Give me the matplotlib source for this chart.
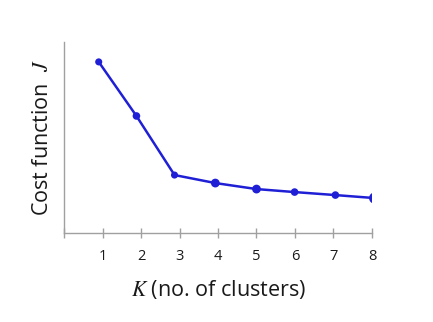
import matplotlib.pyplot as plt

plt.rcParams['font.family'] = ['Open Sans', 'DejaVu Sans']
plt.rcParams['mathtext.fontset'] = 'stix'

# Data (hand-drawn elbow curve, positions)
k_pos = [0.9, 1.88, 2.87, 3.93, 5.0, 5.99, 7.05, 8.07]
cost = [171, 117, 58, 50, 44, 41, 38, 35]
tick_pos = [0, 1, 2, 3, 4, 5, 6, 7, 8]
tick_labels = ['', '1', '2', '3', '4', '5', '6', '7', '8']

blue = '#1f1fd6'
grey = '#a0a0a0'

fig = plt.figure(figsize=(4.33, 3.22), dpi=100)
ax = fig.add_axes([0.148, 0.276, 0.711, 0.594])

ax.plot(k_pos, cost, color=blue, lw=1.8, solid_capstyle='round')
sizes = [26, 30, 26, 40, 40, 30, 30, 65]
ax.scatter(k_pos, cost, s=sizes, color=blue, zorder=3, linewidths=0)

ax.set_xlim(0, 8)
ax.set_ylim(0, 191)

for s in ['top', 'right']:
    ax.spines[s].set_visible(False)
for s in ['left', 'bottom']:
    ax.spines[s].set_color(grey)
    ax.spines[s].set_linewidth(1.0)

ax.set_xticks(tick_pos)
ax.set_xticklabels(tick_labels)
ax.tick_params(axis='x', direction='inout', length=7, width=1.0, color=grey,
               labelsize=10.5, labelcolor='#1a1a1a', pad=8)
ax.set_yticks([])

ax.set_xlabel(r'$K$ (no. of clusters)', fontsize=15.5, color='#1a1a1a', labelpad=10)
ax.set_ylabel(r'Cost function  $J$', fontsize=15.5, color='#1a1a1a', labelpad=8)

fig.savefig('out.png', dpi=100, facecolor='white')
